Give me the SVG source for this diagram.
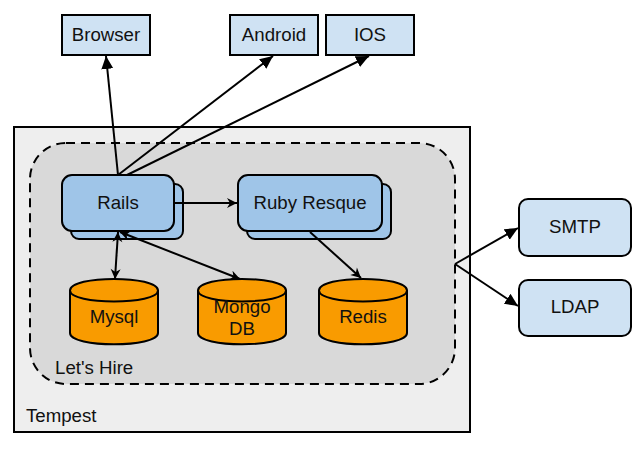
<svg xmlns="http://www.w3.org/2000/svg" width="635" height="449" viewBox="0 0 635 449">
<style>
text{font-family:"Liberation Sans",Arial,sans-serif;font-size:18.67px;fill:#111}
.m{text-anchor:middle}
.b{fill:#cfe2f3;stroke:#000;stroke-width:2}
.r{fill:#9fc5e8;stroke:#000;stroke-width:2}
.c{fill:#f99b00;stroke:#000;stroke-width:2}
.l{fill:none;stroke:#000;stroke-width:2}
</style>
<defs>
<marker id="a" markerUnits="userSpaceOnUse" markerWidth="15" markerHeight="13" refX="13" refY="6" orient="auto-start-reverse"><path d="M0 0L13 6L0 12Z" fill="#000"/></marker>
<marker id="o" markerUnits="userSpaceOnUse" markerWidth="14" markerHeight="12" refX="11" refY="5" orient="auto-start-reverse"><path d="M1 0L11 5L1 10L4 5Z" fill="#000"/></marker>
</defs>
<g id="tempest"><rect x="14" y="127" width="456" height="305" fill="#eee" stroke="#000" stroke-width="2"/><text x="26" y="422">Tempest</text></g>
<g id="letshire"><rect x="30" y="143" width="425" height="241" rx="36" fill="#d9d9d9" stroke="#000" stroke-width="2" stroke-dasharray="9 6"/><text x="55" y="374">Let's Hire</text></g>
<g id="browser"><rect class="b" x="62" y="15" width="88" height="40"/><text class="m" x="106" y="41">Browser</text></g>
<g id="android"><rect class="b" x="230" y="15" width="88" height="40"/><text class="m" x="274" y="41">Android</text></g>
<g id="ios"><rect class="b" x="326" y="15" width="88" height="40"/><text class="m" x="370" y="41">IOS</text></g>
<g id="rails"><rect class="r" x="71" y="184" width="112" height="55" rx="8"/><rect class="r" x="62" y="175" width="112" height="56" rx="10"/><text class="m" x="118" y="209">Rails</text></g>
<g id="ruby-resque"><rect class="r" x="247" y="184" width="144" height="55" rx="8"/><rect class="r" x="238" y="175" width="144" height="56" rx="10"/><text class="m" x="310" y="209">Ruby Resque</text></g>
<g id="mysql"><path class="c" d="M70 290.500C70 275 158 275 158 290.500V333C158 348 70 348 70 333Z"/><path class="l" d="M70 290.500C70 305 158 305 158 290.500"/><text class="m" x="114" y="323">Mysql</text></g>
<g id="mongo"><path class="c" d="M198 290.500C198 275 286 275 286 290.500V333C286 348 198 348 198 333Z"/><path class="l" d="M198 290.500C198 305 286 305 286 290.500"/><text class="m" x="242" y="313">Mongo</text><text class="m" x="242" y="335">DB</text></g>
<g id="redis"><path class="c" d="M319 290.500C319 275 407 275 407 290.500V333C407 348 319 348 319 333Z"/><path class="l" d="M319 290.500C319 305 407 305 407 290.500"/><text class="m" x="363" y="323">Redis</text></g>
<g id="smtp"><rect class="b" x="519" y="199" width="112" height="57" rx="9"/><text class="m" x="575" y="233">SMTP</text></g>
<g id="ldap"><rect class="b" x="519" y="280" width="112" height="56" rx="9"/><text class="m" x="575" y="313">LDAP</text></g>
<g id="connectors">
<path class="l" d="M118 175L106 56" marker-end="url(#a)"/>
<path class="l" d="M118 175L273 56" marker-end="url(#a)"/>
<path class="l" d="M127 175L369 56" marker-end="url(#a)"/>
<path class="l" d="M175 203L237 203" marker-end="url(#o)"/>
<path class="l" d="M118 232L115 279" marker-start="url(#o)" marker-end="url(#o)"/>
<path class="l" d="M120 232L240 279" marker-start="url(#o)" marker-end="url(#o)"/>
<path class="l" d="M310 232L361 278" marker-end="url(#o)"/>
<path class="l" d="M455 264L518 228" marker-end="url(#a)"/>
<path class="l" d="M455 264L518 306" marker-end="url(#a)"/>
</g>
</svg>
